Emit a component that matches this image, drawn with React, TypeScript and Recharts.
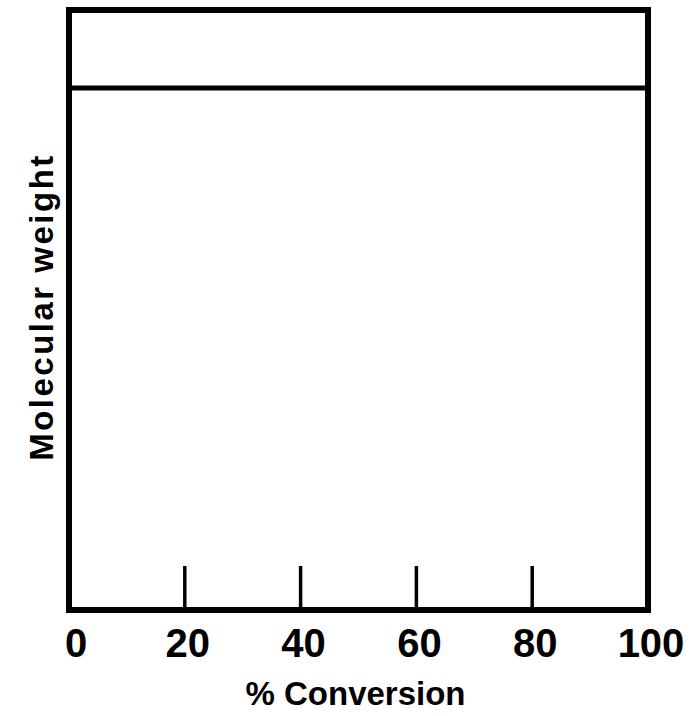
import React from 'react';
import { LineChart, Line, XAxis, YAxis, ReferenceArea } from 'recharts';

const conversion = [0, 100];
const molecularWeight = [87, 87];
const xTicks = [0, 20, 40, 60, 80, 100];
const xTitle = '% Conversion';
const yTitle = 'Molecular weight';

const data = conversion.map((c, i) => ({ conversion: c, mw: molecularWeight[i] }));

const FONT = '"Liberation Sans", Arial, Helvetica, sans-serif';

const XTick = (props: any) => {
  const { x, y, payload } = props;
  const v = payload.value;
  const inner = v !== 0 && v !== 100;
  const dx = v === 0 ? 7 : 3;
  return (
    <g>
      {inner && <line x1={x} x2={x} y1={y} y2={y - 44} stroke="#000" strokeWidth={3.5} />}
      <text x={x + dx} y={y + 47} textAnchor="middle" fontFamily={FONT} fontWeight="bold" fontSize={40} fill="#000">
        {v}
      </text>
    </g>
  );
};

const YLabel = (props: any) => {
  const { viewBox } = props;
  const cx = viewBox.x + 53;
  const cy = viewBox.y + viewBox.height / 2 - 3;
  return (
    <text
      x={cx}
      y={cy}
      transform={`rotate(-90 ${cx} ${cy})`}
      textAnchor="middle"
      fontFamily={FONT}
      fontWeight="bold"
      fontSize={33}
      letterSpacing={2.5}
      fill="#000"
    >
      {yTitle}
    </text>
  );
};

const XLabel = (props: any) => {
  const { viewBox } = props;
  const cx = viewBox.x + viewBox.width / 2 - 3;
  const cy = viewBox.y + 95;
  return (
    <text x={cx} y={cy} textAnchor="middle" fontFamily={FONT} fontWeight="bold" fontSize={33} fill="#000">
      {xTitle}
    </text>
  );
};

export default function App() {
  return (
    <div style={{ position: 'absolute', left: 0, top: 0, width: 692, height: 716 }}>
      <LineChart width={692} height={716} data={data} margin={{ top: 10, right: 44, bottom: 0, left: 0 }}>
        <XAxis
          dataKey="conversion"
          type="number"
          domain={[0, 100]}
          ticks={xTicks}
          height={106}
          axisLine={false}
          tickLine={false}
          tickSize={0}
          tickMargin={0}
          tick={<XTick />}
          interval={0}
          label={<XLabel />}
        />
        <YAxis
          type="number"
          domain={[0, 100]}
          width={69}
          axisLine={false}
          tickLine={false}
          tick={false}
          label={<YLabel />}
        />
        <ReferenceArea x1={0} x2={100} y1={0} y2={100} fill="none" stroke="#000" strokeWidth={6} fillOpacity={0} strokeOpacity={1} />
        <Line dataKey="mw" stroke="#000" strokeWidth={5} dot={false} isAnimationActive={false} />
      </LineChart>
    </div>
  );
}
